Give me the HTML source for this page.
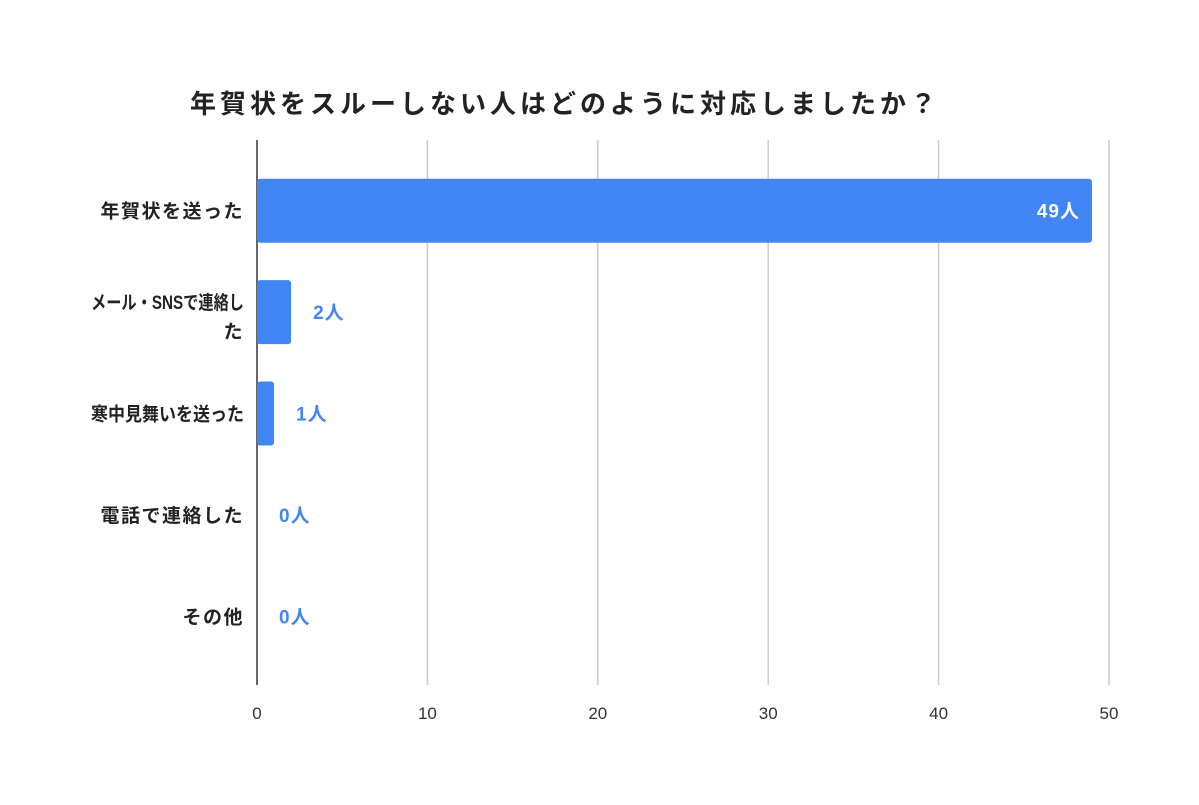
<!DOCTYPE html>
<html><head><meta charset="utf-8"><style>
body{margin:0;background:#fff;}
svg text{font-family:"Liberation Sans","Noto Sans CJK JP",sans-serif;}
</style></head><body>
<svg id="chart" width="1199" height="800" xmlns="http://www.w3.org/2000/svg">
<text x="565" y="113" text-anchor="middle" font-size="26" letter-spacing="4" font-weight="bold" fill="#222">年賀状をスルーしない人はどのように対応しましたか？</text>
<g id="grid"></g><g id="bars"></g><g id="labels"></g>
</svg>
<script>
const categories=["年賀状を送った","メール・SNSで連絡した","寒中見舞いを送った","電話で連絡した","その他"];
const values=[49,2,1,0,0];
const ticks=[0,10,20,30,40,50];
const valueLabels=["49人","2人","1人","0人","0人"];
const NS="http://www.w3.org/2000/svg";
const x0=257,x1=1109,yTop=160,yBottom=667;
const xs=v=>x0+(x1-x0)*v/50;
const band=(yBottom-yTop)/categories.length;
const yc=i=>yTop+band*(i+0.5);
function mk(t,a,p){const e=document.createElementNS(NS,t);for(const k in a)e.setAttribute(k,a[k]);p.appendChild(e);return e;}
const g=document.getElementById('grid'),b=document.getElementById('bars'),l=document.getElementById('labels');
ticks.forEach(t=>{
 if(t>0){const ln=mk('line',{x1:xs(t),x2:xs(t),y1:140,y2:685,stroke:'#ccc','stroke-width':1.5},g);
 
 }
 const tx=mk('text',{x:xs(t),y:719,'text-anchor':'middle','font-size':17,fill:'#333'},g);tx.textContent=t;
 
 
});
categories.forEach((c,i)=>{
 const w=xs(values[i])-x0;
 if(values[i]>0){const r=mk('rect',{x:x0,y:yc(i)-32,width:w,height:64,rx:3,fill:'#4285f4'},b);
 
 }
 const lines=c==="メール・SNSで連絡した"?["メール・SNSで連絡し","た"]:[c];
 lines.forEach((s,j)=>{const t=mk('text',{x:244,y:lines.length>1?yc(i)-3+j*29:yc(i)+7,'text-anchor':'end','font-size':19,'letter-spacing':1.5,'font-weight':'bold',fill:'#222'},l);t.textContent=s;
 if(s.length>8){t.setAttribute('textLength',153);t.setAttribute('lengthAdjust','spacingAndGlyphs');t.setAttribute('letter-spacing',0);}
 
 });
 const inside=values[i]>10;
 const vl=mk('text',{x:inside?xs(values[i])-12:xs(values[i])+22,y:yc(i)+7,'text-anchor':inside?'end':'start','font-size':19,'letter-spacing':1,'font-weight':'bold',fill:inside?'#fff':'#4285f4'},l);
 vl.textContent=valueLabels[i];
 
 
});
const ax=mk('line',{x1:x0,x2:x0,y1:140,y2:685,stroke:'#333','stroke-width':1.5},g);


</script>
</body></html>
